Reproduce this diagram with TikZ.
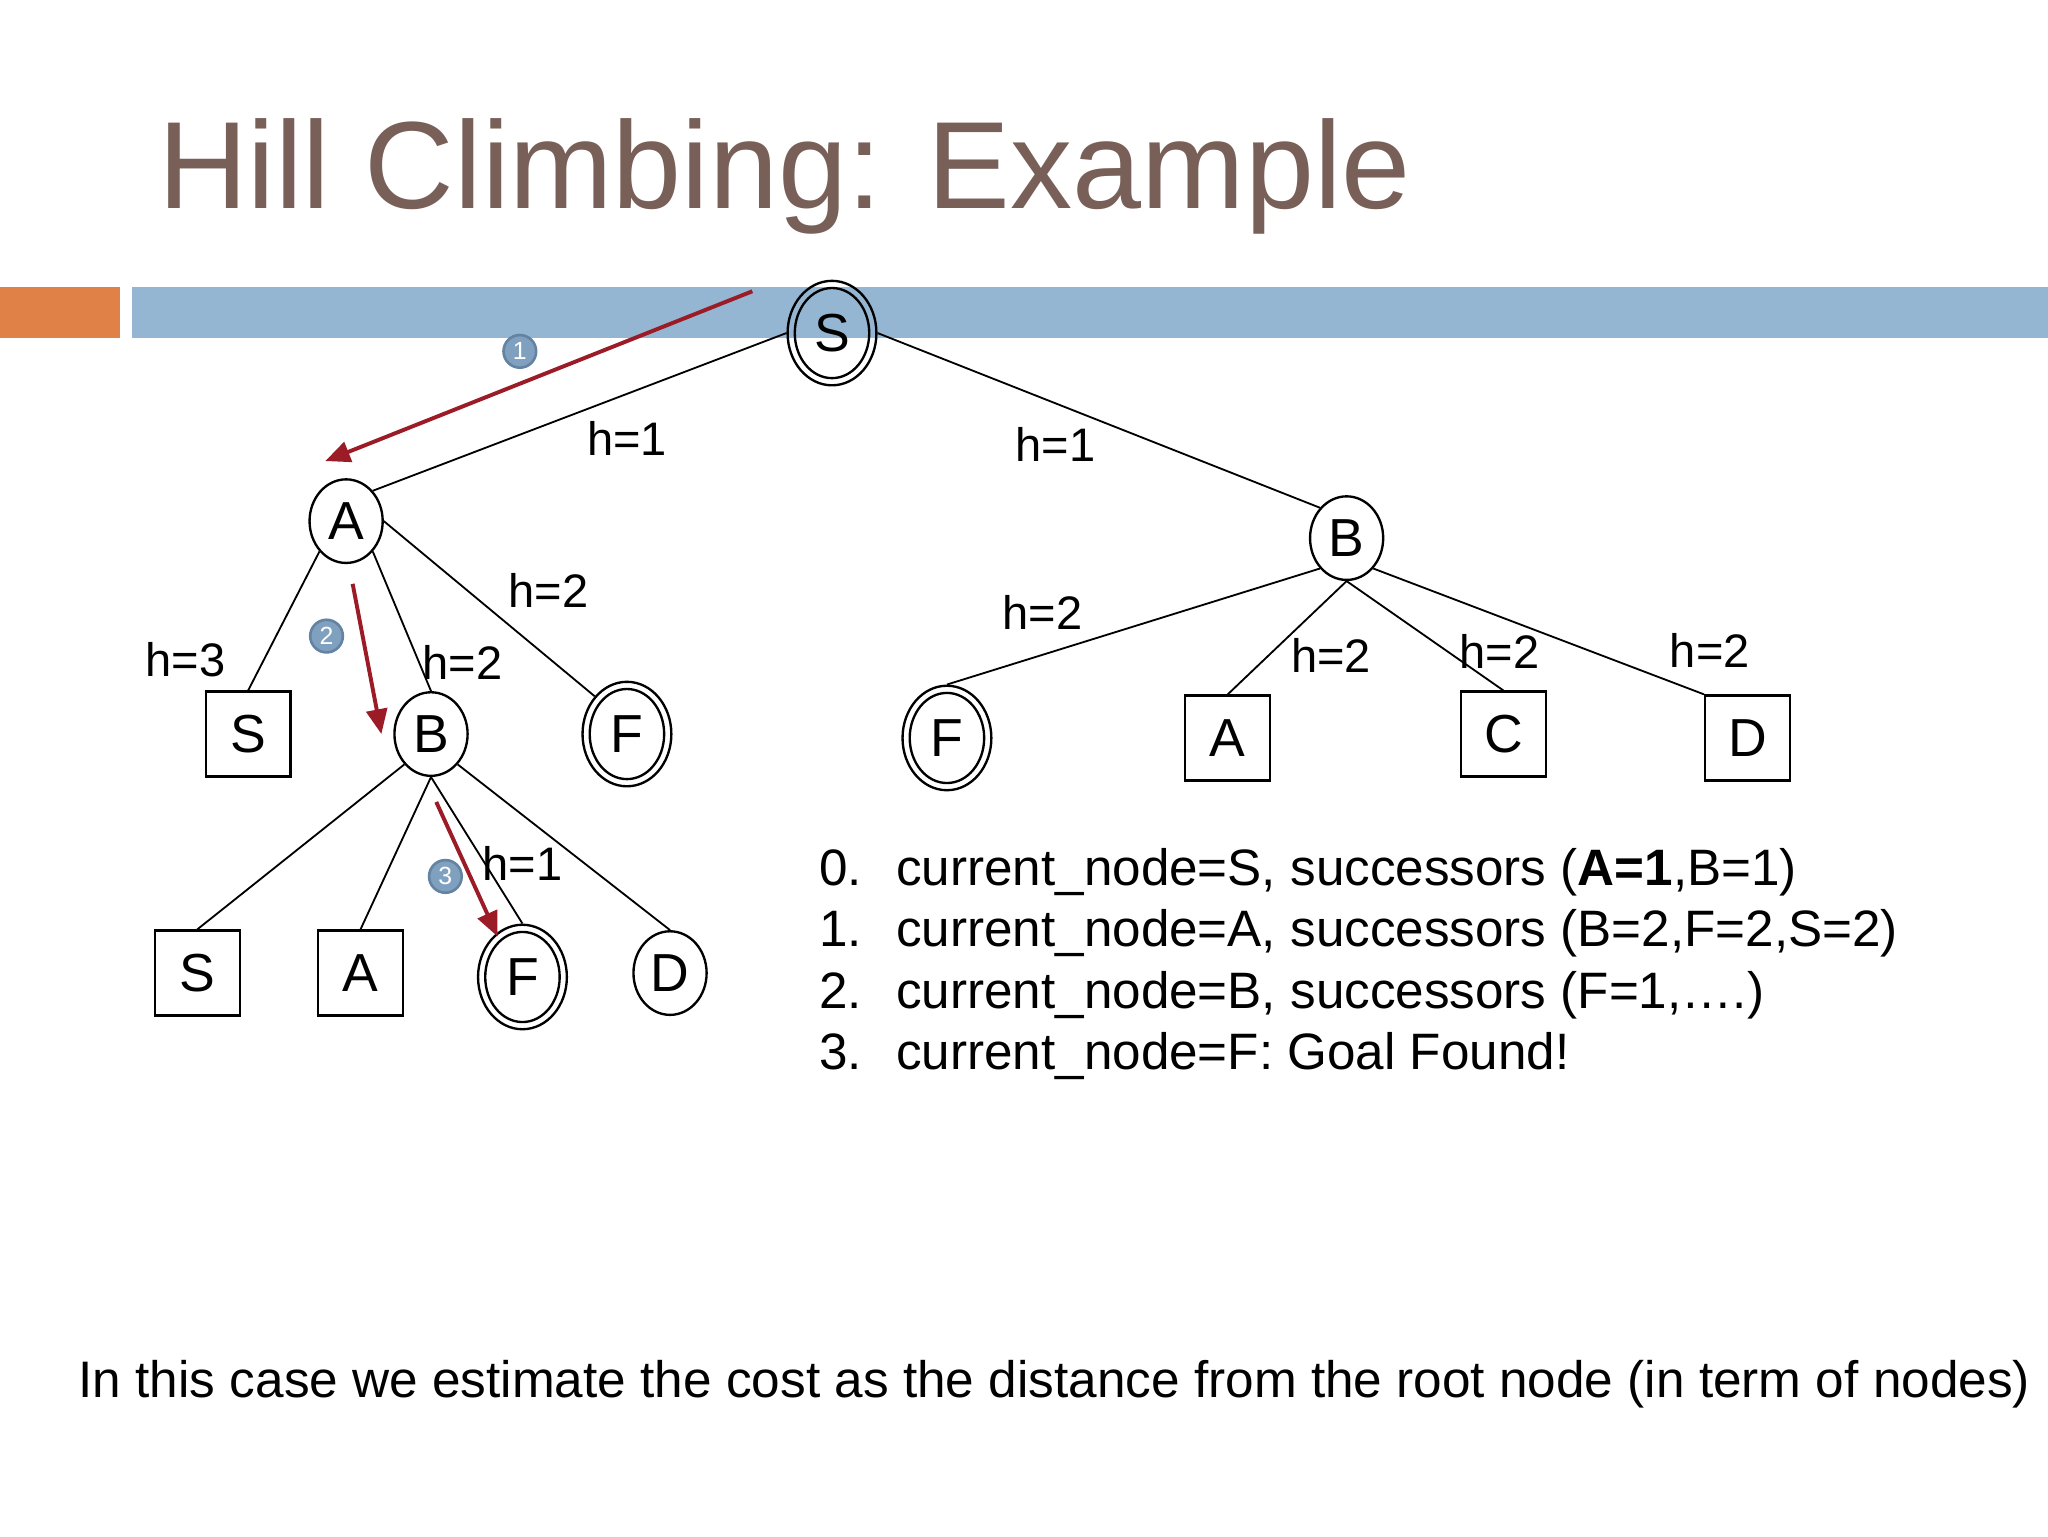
\documentclass[tikz,border=0pt]{standalone}
\usepackage{fontspec}
\setmainfont{Liberation Sans}
\usetikzlibrary{shapes.geometric,arrows.meta}
\definecolor{titlebrown}{RGB}{120,96,88}
\definecolor{barorange}{RGB}{224,130,72}
\definecolor{barblue}{RGB}{148,182,210}
\definecolor{arrowred}{RGB}{155,28,38}
\definecolor{badgefill}{RGB}{128,160,192}
\definecolor{badgeline}{RGB}{100,130,162}
\tikzset{
  stnode/.style={draw, line width=1.8pt, ellipse, minimum width=56pt, minimum height=64pt, inner sep=0pt, font=\fontsize{41}{41}\selectfont},
  goalnode/.style={draw, line width=1.8pt, ellipse, minimum width=68pt, minimum height=80pt, inner sep=0pt, font=\fontsize{41}{41}\selectfont},
  boxnode/.style={draw, line width=1.8pt, rectangle, minimum width=65pt, minimum height=65pt, inner sep=0pt, font=\fontsize{41}{41}\selectfont},
  edge/.style={line width=1.4pt},
  hlabel/.style={inner sep=0pt, font=\fontsize{36}{36}\selectfont},
  redarrow/.style={draw=arrowred, line width=3pt, -{Triangle[length=19pt,width=16pt]}},
  badge/.style={circle, draw=badgeline, fill=badgefill, line width=2pt, minimum size=25pt, inner sep=0pt, text=white, font=\fontsize{19}{19}\selectfont},
  listtext/.style={anchor=base west, inner sep=0pt, font=\fontsize{39.2}{39.2}\selectfont}
}
\begin{document}
\begin{tikzpicture}[x=1pt,y=-1pt]
\useasboundingbox (0,0) rectangle (1568,1176);
\fill[white] (0,0) rectangle (1568,1176);
% title and bars
\node[anchor=base west, inner sep=0pt, text=titlebrown, font=\fontsize{95}{95}\selectfont] (title) at (121,160) {Hill Climbing: Example};
\fill[barorange] (0,220) rectangle (92,259);
\fill[barblue] (101,220) rectangle (1568,259);
% nodes
\node[goalnode] (S) at (637,255) {S};
\node[stnode] (A) at (265,399) {A};
\node[stnode] (B) at (1031,412) {B};
\node[boxnode] (AS) at (190,562) {S};
\node[stnode] (AB) at (330,562) {B};
\node[goalnode] (AF) at (480,562) {F};
\node[goalnode] (BF) at (725,565) {F};
\node[boxnode] (BA) at (940,565) {A};
\node[boxnode] (BC) at (1151,562) {C};
\node[boxnode] (BD) at (1338,565) {D};
\node[boxnode] (ABS) at (151,745) {S};
\node[boxnode] (ABA) at (276,745) {A};
\node[goalnode] (ABF) at (400,748) {F};
\node[stnode] (ABD) at (513,745) {D};
% inner rings of goal nodes
\foreach \g in {S,AF,BF,ABF}{
  \draw[line width=1.8pt] (\g.center) ellipse [x radius=28.5, y radius=34.5];
}
% edges
\draw[edge] (S.west) -- (A.north east);
\draw[edge] (S.east) -- (B.north west);
\draw[edge] (A.south west) -- (AS.north);
\draw[edge] (A.south east) -- (AB.north);
\draw[edge] (A.east) -- (AF.north west);
\draw[edge] (AB.south west) -- (ABS.north);
\draw[edge] (AB.south) -- (ABA.north);
\draw[edge] (AB.south) -- (ABF.north);
\draw[edge] (AB.south east) -- (ABD.north);
\draw[edge] (B.south west) -- (BF.north);
\draw[edge] (B.south) -- (BA.north);
\draw[edge] (B.south) -- (BC.north);
\draw[edge] (B.south east) -- (BD.north west);
% edge labels
\node[hlabel] (l1) at (480,336) {h=1};
\node[hlabel] (l2) at (808,340) {h=1};
\node[hlabel] (l3) at (420,452) {h=2};
\node[hlabel] (l4) at (142,505) {h=3};
\node[hlabel] (l5) at (354,507) {h=2};
\node[hlabel] (l6) at (798,469) {h=2};
\node[hlabel] (l7) at (1019,502) {h=2};
\node[hlabel] (l8) at (1148,499) {h=2};
\node[hlabel] (l9) at (1309,498) {h=2};
\node[hlabel] (l10) at (400,661) {h=1};
% red arrows
\coordinate (r1s) at (576,223);
\coordinate (r1e) at (249,353);
\coordinate (r2s) at (270,447);
\coordinate (r2e) at (292,562);
\coordinate (r3s) at (334,614);
\coordinate (r3e) at (381,717);
\draw[redarrow] (r1s) -- (r1e);
\draw[redarrow] (r2s) -- (r2e);
\draw[redarrow] (r3s) -- (r3e);
% badges
\node[badge] (b1) at (398,269) {1};
\node[badge] (b2) at (250,487) {2};
\node[badge] (b3) at (341,671) {3};
% list
\node[listtext] (n0) at (627,678) {0.};
\node[listtext] (t0) at (686,678) {current\_node=S, successors (\textbf{A=1},B=1)};
\node[listtext] (n1) at (627,725) {1.};
\node[listtext] (t1) at (686,725) {current\_node=A, successors (B=2,F=2,S=2)};
\node[listtext] (n2) at (627,772) {2.};
\node[listtext] (t2) at (686,772) {current\_node=B, successors (F=1,\ldots.)};
\node[listtext] (n3) at (627,819) {3.};
\node[listtext] (t3) at (686,819) {current\_node=F: Goal Found!};
% bottom text
\node[listtext, font=\fontsize{39.3}{39.3}\selectfont] (bottom) at (60,1070) {In this case we estimate the cost as the distance from the root node (in term of nodes)};
\end{tikzpicture}
\end{document}
